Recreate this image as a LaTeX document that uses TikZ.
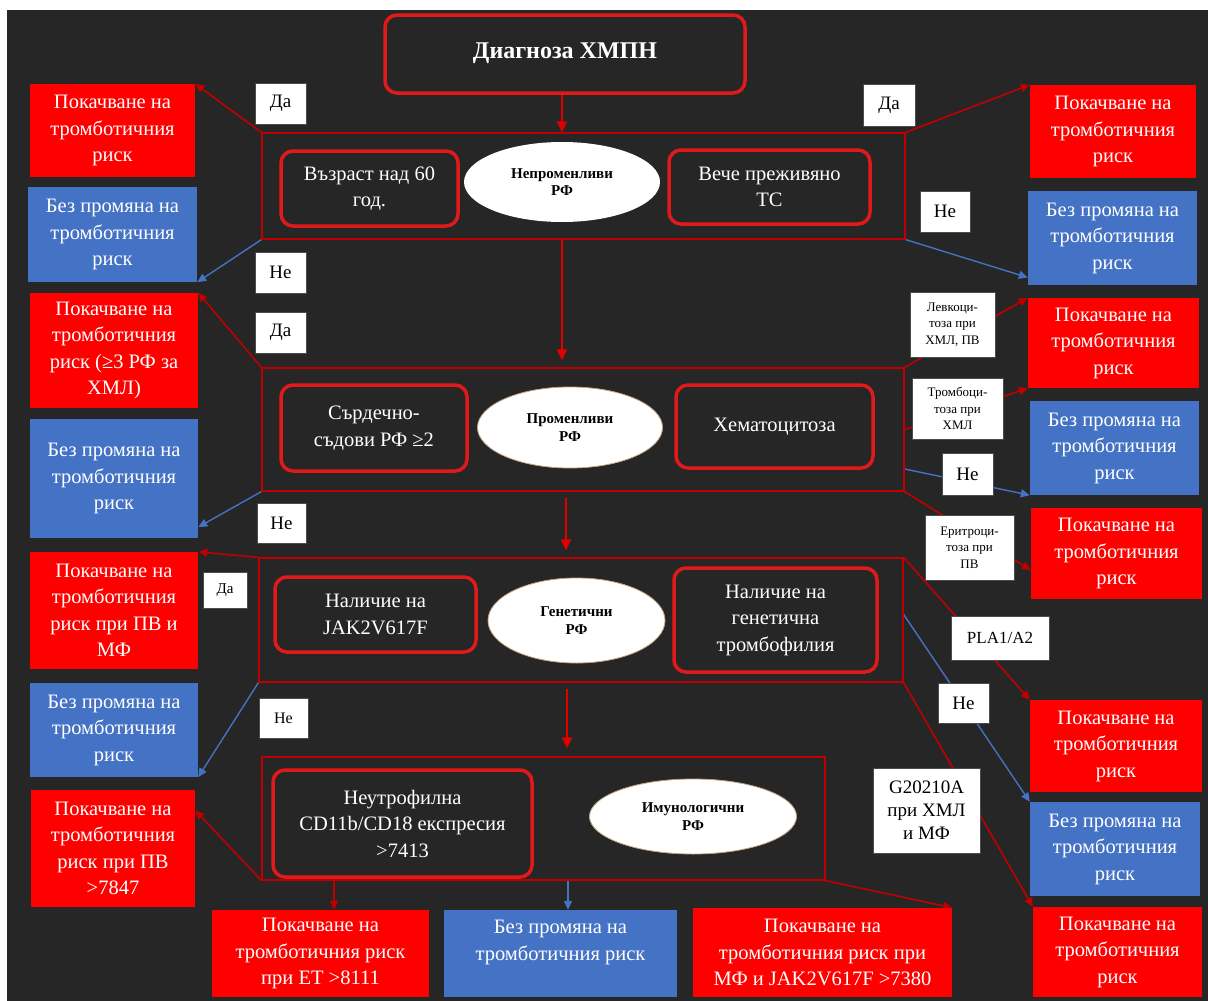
\documentclass[tikz,border=0pt]{standalone}
\usepackage{fontspec}
\setmainfont{Liberation Serif}
\usetikzlibrary{shapes.geometric,arrows.meta}
\definecolor{bgc}{HTML}{262626}
\definecolor{redfill}{HTML}{FF0000}
\definecolor{bluefill}{HTML}{4472C4}
\definecolor{pred}{HTML}{C00000}
\definecolor{rborder}{HTML}{E01A1A}
\definecolor{arrred}{HTML}{E00000}
\definecolor{cream}{HTML}{F2E4CC}
\definecolor{tanc}{HTML}{B08860}
\definecolor{tand}{HTML}{5A3A20}
\pgfdeclareradialshading{glow}{\pgfpoint{0bp}{0bp}}{color(0bp)=(white); color(43bp)=(white); color(47bp)=(cream); color(49.3bp)=(tanc); color(50bp)=(tand)}
\pgfdeclarelayer{bglayer}
\pgfdeclarelayer{lines}
\pgfsetlayers{bglayer,lines,main}
\begin{document}
\begin{tikzpicture}[x=1pt,y=-1pt,
  rb/.style={fill=redfill, text=white, align=center, inner sep=0pt, font=\fontsize{20.5}{26.5}\selectfont},
  bb/.style={rb, fill=bluefill},
  rr/.style={draw=rborder, line width=3.5pt, rounded corners=12pt, fill=bgc, text=white, align=center, inner sep=0pt, font=\fontsize{20.5}{26.5}\selectfont},
  pan/.style={draw=pred, line width=1.2pt, inner sep=0pt},
  ell/.style={ellipse, fill=white, inner sep=0pt, align=center, text=black, font=\bfseries\fontsize{15}{17.5}\selectfont},
  gl/.style={ell, shade, shading=glow, draw=tanc!80, line width=0.8pt},
  lab/.style={fill=white, draw=black!70, line width=0.4pt, text=black, align=center, inner sep=0pt, font=\fontsize{19}{23}\selectfont},
  slab/.style={lab, font=\fontsize{13}{16.5}\selectfont},
  cr/.style={draw=pred, line width=1.6pt, -{Triangle[length=9pt,width=8pt]}},
  cb/.style={draw=bluefill, line width=1.4pt, -{Triangle[length=9pt,width=8pt]}},
  ca/.style={draw=arrred, line width=2.6pt, -{Triangle[length=11pt,width=10pt]}}
]
\useasboundingbox (0,0) rectangle (1208,1001);
\begin{pgfonlayer}{bglayer}
\fill[bgc] (7,10) rectangle (1208,1001);
\end{pgfonlayer}

% title
\node[rr, minimum width=360pt, minimum height=78pt, font=\bfseries\fontsize{24}{28}\selectfont] (title) at (565,54) {\raisebox{6pt}{Диагноза ХМПН}};

% panel 1
\node[pan, minimum width=643pt, minimum height=106pt] (p1) at (583.5,186) {};
\node[rr, minimum width=177pt, minimum height=75pt] (b1a) at (369.5,188.5) {Възраст над 60\\год.};
\node[ell, minimum width=196pt, minimum height=80pt] (e1) at (562,182) {Непроменливи\\РФ};
\node[rr, minimum width=201pt, minimum height=74pt] (b1b) at (769.5,187) {Вече преживяно\\ТС};

\node[rb, minimum width=165pt, minimum height=93pt] (lr1) at (112.5,130.5) {Покачване на\\тромботичния\\риск};
\node[bb, minimum width=169pt, minimum height=95pt] (lb1) at (112.5,234.5) {Без промяна на\\тромботичния\\риск};
\node[lab, minimum width=51pt, minimum height=41pt] (lda1) at (280.5,103.5) {Да};
\node[lab, minimum width=51pt, minimum height=41pt] (lne1) at (280.5,272.5) {Не};
\node[lab, minimum width=52pt, minimum height=42pt] (rda1) at (889,105) {Да};
\node[rb, minimum width=166pt, minimum height=93pt] (rr1) at (1113,131.5) {Покачване на\\тромботичния\\риск};
\node[lab, minimum width=50pt, minimum height=41pt] (rne1) at (945,211.5) {Не};
\node[bb, minimum width=169pt, minimum height=94pt] (rb1) at (1112.5,238) {Без промяна на\\тромботичния\\риск};

% panel 2
\node[pan, minimum width=642pt, minimum height=123pt] (p2) at (583,429.5) {};
\node[rr, minimum width=186pt, minimum height=86pt] (b2a) at (374,428) {Сърдечно-\\съдови РФ ≥2};
\node[gl, minimum width=185pt, minimum height=81pt] (e2) at (570,427.5) {Променливи\\РФ};
\node[rr, minimum width=197pt, minimum height=83pt] (b2b) at (774.5,426.5) {Хематоцитоза};

\node[rb, minimum width=168pt, minimum height=115pt] (lr2) at (114,350.5) {Покачване на\\тромботичния\\риск (≥3 РФ за\\ХМЛ)};
\node[lab, minimum width=51pt, minimum height=41pt] (lda2) at (280.5,332.5) {Да};
\node[bb, minimum width=168pt, minimum height=119pt] (lb2) at (114,478.5) {Без промяна на\\тромботичния\\риск};
\node[lab, minimum width=49pt, minimum height=40pt] (lne2) at (281.5,523) {Не};
\node[slab, minimum width=85pt, minimum height=65pt] (rlk) at (952.5,324.5) {Левкоци-\\тоза при\\ХМЛ, ПВ};
\node[rb, minimum width=171pt, minimum height=90pt] (rr2) at (1113.5,343) {Покачване на\\тромботичния\\риск};
\node[slab, minimum width=91pt, minimum height=61pt] (rtr) at (957.5,408.5) {Тромбоци-\\тоза при\\ХМЛ};
\node[bb, minimum width=169pt, minimum height=94pt] (rb2) at (1114.5,448) {Без промяна на\\тромботичния\\риск};
\node[lab, minimum width=51pt, minimum height=42pt] (rne2) at (967.5,474) {Не};
\node[slab, minimum width=89pt, minimum height=65pt] (rer) at (969.5,547.5) {Еритроци-\\тоза при\\ПВ};
\node[rb, minimum width=171pt, minimum height=91pt] (rr3) at (1116.5,553.5) {Покачване на\\тромботичния\\риск};

% panel 3
\node[pan, minimum width=644pt, minimum height=124pt] (p3) at (581,620) {};
\node[rr, minimum width=201pt, minimum height=75pt] (b3a) at (375.5,614.5) {Наличие на\\JAK2V617F};
\node[gl, minimum width=177pt, minimum height=85pt] (e3) at (576.5,620.5) {Генетични\\РФ};
\node[rr, minimum width=203pt, minimum height=104pt] (b3b) at (775.5,620) {Наличие на\\генетична\\тромбофилия};

\node[rb, minimum width=168pt, minimum height=117pt] (lr3) at (114,610.5) {Покачване на\\тромботичния\\риск при ПВ и\\МФ};
\node[lab, minimum width=44pt, minimum height=36pt, font=\fontsize{15}{18}\selectfont] (lda3) at (225,590) {Да};
\node[bb, minimum width=168pt, minimum height=94pt] (lb3) at (114,730) {Без промяна на\\тромботичния\\риск};
\node[lab, minimum width=49pt, minimum height=40pt, font=\fontsize{16}{19}\selectfont] (lne3) at (283.5,718) {Не};
\node[lab, minimum width=98pt, minimum height=44pt, font=\fontsize{17}{20}\selectfont] (rpla) at (1000,638) {PLA1/A2};
\node[rb, minimum width=172pt, minimum height=92pt] (rr4) at (1116,746) {Покачване на\\тромботичния\\риск};
\node[lab, minimum width=51pt, minimum height=40pt] (rne3) at (963.5,703) {Не};
\node[bb, minimum width=170pt, minimum height=94pt] (rb4) at (1115,849) {Без промяна на\\тромботичния\\риск};
\node[lab, minimum width=107pt, minimum height=85pt] (rg) at (926.5,810.5) {G20210A\\при ХМЛ\\и МФ};
\node[rb, minimum width=169pt, minimum height=90pt] (rr5) at (1117.5,952) {Покачване на\\тромботичния\\риск};

% panel 4
\node[pan, minimum width=563pt, minimum height=123pt] (p4) at (543.5,818.5) {};
\node[rr, minimum width=259pt, minimum height=107pt] (b4a) at (402.5,823.5) {Неутрофилна\\CD11b/CD18 експресия\\>7413};
\node[gl, minimum width=207pt, minimum height=75pt] (e4) at (693,816.5) {Имунологични\\РФ};
\node[rb, minimum width=164pt, minimum height=117pt] (lr4) at (113,848.5) {Покачване на\\тромботичния\\риск при ПВ\\>7847};
\node[rb, minimum width=217pt, minimum height=87pt] (br1) at (320.5,953.5) {Покачване на\\тромботичния риск\\при ЕТ >8111};
\node[bb, minimum width=233pt, minimum height=87pt] (bb1) at (560.5,953.5) {Без промяна на\\тромботичния риск\\\mbox{}};
\node[rb, minimum width=259pt, minimum height=89pt] (br2) at (822.5,952.5) {Покачване на\\тромботичния риск при\\МФ и JAK2V617F >7380};

\coordinate (x566) at (566,0);
\coordinate (x567) at (567,0);
\coordinate (x334) at (334,0);
\coordinate (x568) at (568,0);

\begin{pgfonlayer}{lines}
\draw[ca] (title.south -| e1) -- (p1.north -| e1);
\draw[ca, shorten >=7pt] (p1.south -| e1) -- (p2.north -| e1);
\draw[ca, shorten <=6pt, shorten >=7pt] (p2.south -| x566) -- (p3.north -| x566);
\draw[ca, shorten <=6pt, shorten >=8pt] (p3.south -| x567) -- (p4.north -| x567);

\draw[cr] (p1.north west) -- (lr1.north east);
\draw[cb] (p1.south west) -- (lb1.south east);
\draw[cr] (p2.north west) -- (lr2.north east);
\draw[cb] (p2.south west) -- (lb2.-30);
\draw[cr] (p3.north west) -- (lr3.north east);
\draw[cb] (p3.south west) -- (lb3.south east);
\draw[cr] (p4.south west) -- (lr4.25);

\draw[cr] (p1.north east) -- (rr1.north west);
\draw[cb] (p1.south east) -- (rb1.205);
\draw[cr] (p2.north east) -- (rr2.north west);
\draw[cr] (p2.east) -- (rr2.south west);
\draw[cb] (p2.-7) -- (rb2.south west);
\draw[cr] (p2.south east) -- (rr3.191);
\draw[cr] (p3.north east) -- (rr4.north west);
\draw[cb] (p3.1) -- (rb4.north west);
\draw[cr] (p3.south east) -- (rr5.north west);
\draw[cr] (p4.south east) -- (br2.north east);
\draw[cr, line width=1.4pt] (p4.south -| x334) -- (br1.north -| x334);
\draw[cb] (p4.south -| x568) -- (bb1.north -| x568);
\end{pgfonlayer}
\end{tikzpicture}
\end{document}
